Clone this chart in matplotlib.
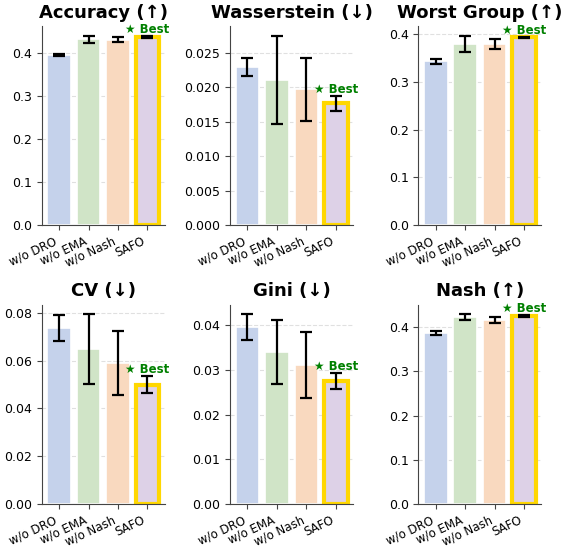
import numpy as np
import matplotlib
matplotlib.use("Agg")
from matplotlib import pyplot as plt

# dados
variantes = ["w/o DRO", "w/o EMA", "w/o Nash", "SAFO"]
titulos = ["Accuracy (↑)", "Wasserstein (↓)", "Worst Group (↑)",
           "CV (↓)", "Gini (↓)", "Nash (↑)"]

acc = [0.396, 0.432, 0.431, 0.438]
acc_err = [0.003, 0.008, 0.006, 0.003]
wass = [0.0229, 0.0211, 0.0197, 0.0177]
wass_err = [0.0013, 0.0064, 0.0046, 0.0011]
worst = [0.3435, 0.380, 0.379, 0.393]
worst_err = [0.0053, 0.017, 0.0105, 0.0015]
cv = [0.0736, 0.0648, 0.0590, 0.0500]
cv_err = [0.0055, 0.0146, 0.0135, 0.0034]
gini = [0.0395, 0.0340, 0.0311, 0.0275]
gini_err = [0.0029, 0.0072, 0.0074, 0.0018]
nash = [0.387, 0.4225, 0.416, 0.4255]
nash_err = [0.0045, 0.0068, 0.0068, 0.0022]

metricas = [(acc, acc_err), (wass, wass_err), (worst, worst_err),
            (cv, cv_err), (gini, gini_err), (nash, nash_err)]
melhor = 3  # SAFO

cores = ["#c5d2eb", "#d0e4c7", "#f9d9bf", "#ddd1e7"]

fig, axs = plt.subplots(2, 3, figsize=(5.67, 5.49), dpi=100)
plt.subplots_adjust(left=0.0735, right=0.955, bottom=0.082, top=0.9526,
                    wspace=0.53, hspace=0.40)

x = np.arange(len(variantes))
for ax, titulo, (vals, errs) in zip(axs.flat, titulos, metricas):
    barras = ax.bar(x, vals, width=0.8, color=cores, edgecolor="white",
                    linewidth=1.2, yerr=errs, capsize=4,
                    error_kw=dict(elinewidth=1.6, capthick=1.6, ecolor="black",
                                  zorder=4),
                    zorder=2)
    barras[melhor].set_edgecolor("#FFD700")
    barras[melhor].set_linewidth(3)
    ax.text(x[melhor], vals[melhor] + errs[melhor], "★ Best", color="green",
            fontsize=8.5, fontweight="bold", ha="center", va="bottom", zorder=3)
    ax.set_title(titulo, fontsize=13, fontweight="bold")
    ax.set_xticks(x)
    ax.set_xticklabels(variantes, rotation=25, ha="right", fontsize=8.5)
    ax.tick_params(axis="y", labelsize=9, colors="#444444", labelcolor="black")
    ax.tick_params(axis="x", colors="#444444", labelcolor="black")
    ax.grid(axis="y", linestyle="--", color="#cccccc", alpha=0.6, linewidth=0.8)
    ax.set_axisbelow(True)
    for lado in ["top", "right"]:
        ax.spines[lado].set_visible(False)
    for lado in ["left", "bottom"]:
        ax.spines[lado].set_color("#444444")

plt.savefig("out.png", dpi=100)
